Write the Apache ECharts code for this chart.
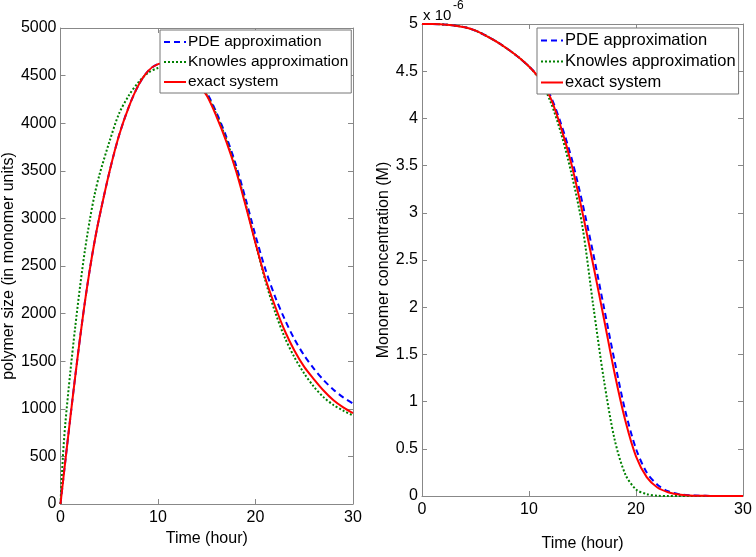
<!DOCTYPE html>
<html>
<head>
<meta charset="utf-8">
<script src="https://cdn.jsdelivr.net/npm/echarts@6/dist/echarts.min.js"></script>
<style>html,body{margin:0;padding:0;background:#fff}#c{width:756px;height:557px}</style>
</head>
<body>
<div id="c"></div>
<script>
// ---- Left panel: polymer size (in monomer units) vs time (hour)
var hoursL = [0,0.25,0.5,1,1.5,2,2.5,3,3.5,4,5,6,7,8,9,10,11,12,13,14,15,16,17,18,19,20,21,22,23,24,25,26,27,28,29,30];
var pdeL     = [0,230,455,900,1330,1740,2120,2460,2760,3020,3480,3870,4170,4400,4550,4620,4630,4600,4525,4440,4320,4110,3860,3560,3200,2820,2470,2180,1940,1730,1560,1420,1300,1200,1120,1055];
var knowlesL = [0,500,850,1380,1850,2280,2660,2980,3250,3460,3800,4100,4290,4430,4530,4580,4600,4580,4510,4420,4300,4090,3830,3520,3150,2740,2350,2020,1750,1540,1370,1230,1120,1040,980,930];
var exactL   = [0,230,455,900,1330,1740,2120,2460,2760,3020,3480,3870,4170,4400,4550,4620,4630,4600,4520,4420,4290,4070,3810,3500,3130,2740,2374,2080,1820,1610,1440,1310,1190,1090,1015,955];

// ---- Right panel: monomer concentration (x 10^-6 M) vs time (hour)
var hoursR = [0,1,2,3,4,5,6,7,8,9,10,11,12,13,14,15,16,17,18,19,20,21,22,23,24,25,26,27,28,29,30];
var pdeR     = [5,5,4.995,4.985,4.965,4.93,4.875,4.81,4.735,4.65,4.55,4.43,4.24,3.94,3.57,3.1,2.57,2.0,1.43,0.9,0.5,0.25,0.12,0.05,0.02,0.008,0.003,0.001,0,0,0];
var knowlesR = [5,5,4.995,4.985,4.965,4.93,4.875,4.81,4.735,4.65,4.55,4.41,4.18,3.84,3.4,2.85,2.02,1.23,0.6,0.23,0.07,0.02,0.003,0,0,0,0,0,0,0,0];
var exactR   = [5,5,4.995,4.985,4.965,4.93,4.875,4.81,4.735,4.65,4.55,4.42,4.22,3.9,3.5,3.0,2.45,1.88,1.3,0.8,0.42,0.2,0.09,0.04,0.015,0.005,0.002,0.001,0,0,0];

var seriesNames = ['PDE approximation','Knowles approximation','exact system'];
var xTicksMax = 30, xTickStep = 10;

var FONT = "'Liberation Sans', Arial, sans-serif";
var AX = '#888';
function zip(xs, ys){ return xs.map(function(x,i){ return [x, ys[i]]; }); }

function xAx(g, pos, name, gap){
  var a = {gridIndex:g, type:'value', min:0, max:xTicksMax, interval:xTickStep, position:pos,
    axisLine:{show:true, onZero:false, lineStyle:{color:AX, width:1}},
    axisTick:{show:true, inside:true, length:5, lineStyle:{color:AX}},
    splitLine:{show:false},
    axisLabel:{show:pos==='bottom', color:'#000', fontSize:16, fontFamily:FONT, margin:6, showMinLabel:true, showMaxLabel:true}};
  if(name){ a.name=name; a.nameLocation='middle'; a.nameGap=gap; a.nameTextStyle={color:'#000', fontSize:16, fontFamily:FONT}; }
  return a;
}
function yAx(g, pos, max, step, name, gap){
  var a = {gridIndex:g, type:'value', min:0, max:max, interval:step, position:pos,
    axisLine:{show:true, onZero:false, lineStyle:{color:AX, width:1}},
    axisTick:{show:true, inside:true, length:5, lineStyle:{color:AX}},
    splitLine:{show:false},
    axisLabel:{show:pos==='left', color:'#000', fontSize:16, fontFamily:FONT, margin:4, showMinLabel:true, showMaxLabel:true,
      formatter:function(v){ return String(v); }}};
  if(name){ a.name=name; a.nameLocation='middle'; a.nameGap=gap; a.nameRotate=90; a.nameTextStyle={color:'#000', fontSize:16, fontFamily:FONT}; }
  return a;
}
var styles = [
  {color:'#0000ff', type:[6,4]},
  {color:'#008000', type:[2,2]},
  {color:'#ff0000', type:'solid'}
];
function mk(name, idx, g, xs, ys){
  return {name:name, type:'line', xAxisIndex:g*2, yAxisIndex:g*2, data:zip(xs, ys),
    showSymbol:false, symbol:'none', smooth:0.3, animation:false,
    lineStyle:{color:styles[idx].color, width:2, type:styles[idx].type}, itemStyle:{color:styles[idx].color}};
}
function legend(left, top, size){
  return {show:true, orient:'vertical', left:left, top:top, data:seriesNames,
    backgroundColor:'#fff', borderColor:'#777', borderWidth:1, borderRadius:0,
    padding:[4,3,3,3], itemGap:4, itemWidth:22, itemHeight:12, itemStyle:{opacity:0},
    textStyle:{color:'#000', fontSize:size, fontFamily:FONT, lineHeight:16, padding:[0,0,0,-3]}};
}

var chart = echarts.init(document.getElementById('c'), null, {renderer:'canvas'});
chart.setOption({
  animation:false,
  backgroundColor:'#fff',
  grid:[
    {left:59, right:403, top:28, bottom:53},
    {left:422, right:13, top:24, bottom:54}
  ],
  xAxis:[
    xAx(0,'bottom','Time (hour)',18), xAx(0,'top'),
    xAx(1,'bottom','Time (hour)',40), xAx(1,'top')
  ],
  yAxis:[
    yAx(0,'left',5000,500,'polymer size (in monomer units)',40), yAx(0,'right',5000,500),
    yAx(1,'left',5,0.5,'Monomer concentration (M)',28), yAx(1,'right',5,0.5)
  ],
  legend:[legend(160,30,15.5), legend(537,28,16.5)],
  series:[
    mk(seriesNames[0],0,0,hoursL,pdeL),
    mk(seriesNames[1],1,0,hoursL,knowlesL),
    mk(seriesNames[2],2,0,hoursL,exactL),
    mk(seriesNames[0],0,1,hoursR,pdeR),
    mk(seriesNames[1],1,1,hoursR,knowlesR),
    mk(seriesNames[2],2,1,hoursR,exactR)
  ],
  graphic:[
    {type:'text', left:423, top:8, style:{text:'x 10', fill:'#000', font:'15px '+FONT}},
    {type:'text', left:453, top:0, style:{text:'-6', fill:'#000', font:'12px '+FONT}}
  ]
});
</script>
</body>
</html>
